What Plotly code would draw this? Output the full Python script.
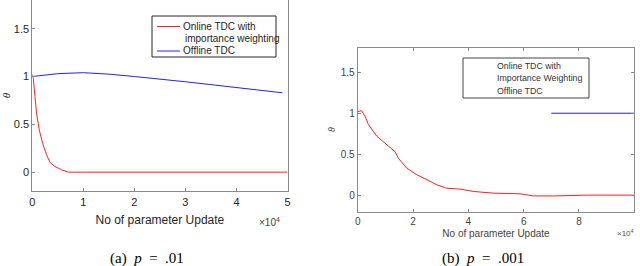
import plotly.graph_objects as go

# ---- data (x in units of 10^4 parameter updates) ----
a_online_x = [0, 0.02, 0.052, 0.085, 0.137, 0.203, 0.28, 0.35, 0.44, 0.575, 0.71, 1.0, 2.0, 3.0, 4.0, 5.0]
a_online_y = [1.02, 0.98, 0.79, 0.61, 0.44, 0.30, 0.18, 0.10, 0.06, 0.024, 0.0, 0.0, 0.0, 0.0, 0.0, 0.0]
a_offline_x = [0, 0.5, 1.0, 1.5, 2.0, 2.5, 3.0, 3.5, 4.0, 4.5, 4.9]
a_offline_y = [1.0, 1.03, 1.04, 1.025, 1.0, 0.975, 0.945, 0.915, 0.885, 0.855, 0.83]

b_online_x = [0, 0.14, 0.27, 0.39, 0.69, 1.05, 1.35, 1.47, 1.77, 2.13, 2.49, 2.86, 3.2,
              3.7, 4.18, 4.9, 5.87, 6.35, 7.07, 8.3, 10.0]
b_online_y = [1.02, 1.03, 0.96, 0.86, 0.72, 0.61, 0.53, 0.45, 0.33, 0.25, 0.19, 0.126, 0.085,
              0.073, 0.045, 0.024, 0.016, -0.01, -0.01, 0.0, 0.0]
b_offline_x = [7.0, 10.0]
b_offline_y = [1.0, 1.0]

legend_a = ["Online TDC with", "importance weighting", "Offline TDC"]
legend_b = ["Online TDC with", "Importance Weighting", "Offline TDC"]
captions = ["(a)&nbsp; <i>p</i>&nbsp; =&nbsp; .01", "(b)&nbsp; <i>p</i>&nbsp; =&nbsp; .001"]

W, H = 640, 266
SANS = "Liberation Sans, Arial, sans-serif"
SERIF = "Liberation Serif, Times New Roman, serif"
RED, BLUE = "#ff2020", "#2020ff"

fig = go.Figure()
fig.add_trace(go.Scatter(x=a_online_x, y=a_online_y, mode="lines", name="Online TDC with importance weighting",
                         line=dict(color=RED, width=1), xaxis="x", yaxis="y", showlegend=False))
fig.add_trace(go.Scatter(x=a_offline_x, y=a_offline_y, mode="lines", name="Offline TDC",
                         line=dict(color=BLUE, width=1), xaxis="x", yaxis="y", showlegend=False))
fig.add_trace(go.Scatter(x=b_online_x, y=b_online_y, mode="lines", showlegend=False,
                         name="Online TDC with Importance Weighting",
                         line=dict(color=RED, width=1), xaxis="x2", yaxis="y2"))
fig.add_trace(go.Scatter(x=b_offline_x, y=b_offline_y, mode="lines", showlegend=False,
                         name="Offline TDC",
                         line=dict(color=BLUE, width=1), xaxis="x2", yaxis="y2"))

axcol = "#8a8a8a"
def ax(**kw):
    d = dict(showgrid=False, zeroline=False, showline=True, linecolor=axcol, linewidth=1,
             ticks="inside", ticklen=3, tickcolor=axcol, automargin=False)
    d.update(kw)
    return d

fig.update_layout(
    width=W, height=H, margin=dict(l=0, r=0, t=0, b=0),
    paper_bgcolor="white", plot_bgcolor="white",
    xaxis=ax(domain=[32.3/W, 287.5/W], range=[0, 5], dtick=1, mirror=False,
             tickfont=dict(family=SANS, size=11, color="#262626"),
             title=dict(text="No of parameter Update", font=dict(family=SANS, size=12, color="#262626"), standoff=9),
             anchor="y"),
    yaxis=ax(domain=[1 - 191.3/H, 1.0], range=[-0.2, 1.8], tickvals=[0, 0.5, 1, 1.5],
             ticktext=["0", "0.5", "1", "1.5"], mirror=True,
             tickfont=dict(family=SANS, size=11, color="#262626"),
             title=dict(text="<i>θ</i>", font=dict(family=SERIF, size=11, color="#262626"), standoff=6),
             anchor="x"),
    xaxis2=ax(domain=[357.7/W, 634.3/W], range=[0, 10], dtick=2, mirror="ticks",
              tickfont=dict(family=SANS, size=10, color="#444"),
              title=dict(text="No of parameter Update", font=dict(family=SANS, size=10, color="#444"), standoff=4),
              anchor="y2"),
    yaxis2=ax(domain=[1 - 211.5/H, 1 - 47.7/H], range=[-0.2, 1.8], tickvals=[0, 0.5, 1, 1.5],
              ticktext=["0", "0.5", "1", "1.5"], mirror="ticks",
              tickfont=dict(family=SANS, size=10, color="#444"),
              title=dict(text="<i>θ</i>", font=dict(family=SERIF, size=10, color="#444"), standoff=3),
              anchor="x2"),
    showlegend=False,
)

# left-panel legend
fig.add_shape(type="rect", xref="paper", yref="paper",
              x0=152/W, x1=276/W, y0=1 - 57/H, y1=1 - 16/H,
              line=dict(color="#262626", width=1), fillcolor="white")
fig.add_shape(type="line", xref="paper", yref="paper", x0=157/W, x1=180/W,
              y0=1 - 26.5/H, y1=1 - 26.5/H, line=dict(color=RED, width=1))
fig.add_shape(type="line", xref="paper", yref="paper", x0=157/W, x1=180/W,
              y0=1 - 51/H, y1=1 - 51/H, line=dict(color=BLUE, width=1))
for txt, yp in zip(legend_a, [26, 38.5, 51]):
    fig.add_annotation(text=txt, xref="paper", yref="paper", x=(181 if yp != 38.5 else 183)/W, y=1 - yp/H,
                       xanchor="left", yanchor="middle", showarrow=False,
                       font=dict(family=SANS, size=10, color="#262626"))

# right-panel legend (drawn without line samples, as in the source)
fig.add_shape(type="rect", xref="paper", yref="paper",
              x0=463/W, x1=589/W, y0=1 - 98/H, y1=1 - 58/H,
              line=dict(color="#444", width=1), fillcolor="white")
for txt, yp in zip(legend_b, [66, 78, 91]):
    fig.add_annotation(text=txt, xref="paper", yref="paper", x=495/W, y=1 - yp/H,
                       xanchor="left", yanchor="middle", showarrow=False,
                       font=dict(family=SANS, size=8.8, color="#333"))

# ×10^4 exponent labels
fig.add_annotation(text="×10<sup>4</sup>", xref="paper", yref="paper", x=282/W, y=1 - 222/H,
                   xanchor="right", yanchor="middle", showarrow=False,
                   font=dict(family=SANS, size=10, color="#444"))
fig.add_annotation(text="×10<sup>4</sup>", xref="paper", yref="paper", x=636/W, y=1 - 233/H,
                   xanchor="right", yanchor="middle", showarrow=False,
                   font=dict(family=SANS, size=8, color="#555"))

# captions
for txt, xc in zip(captions, [147, 483]):
    fig.add_annotation(text=txt, xref="paper", yref="paper", x=xc/W, y=1 - 258/H,
                       xanchor="center", yanchor="middle", showarrow=False,
                       font=dict(family=SERIF, size=15, color="black"))

fig.write_html("out.html", config={"displayModeBar": False},
               post_script="document.body.style.margin='0px';document.body.style.overflow='hidden';")
